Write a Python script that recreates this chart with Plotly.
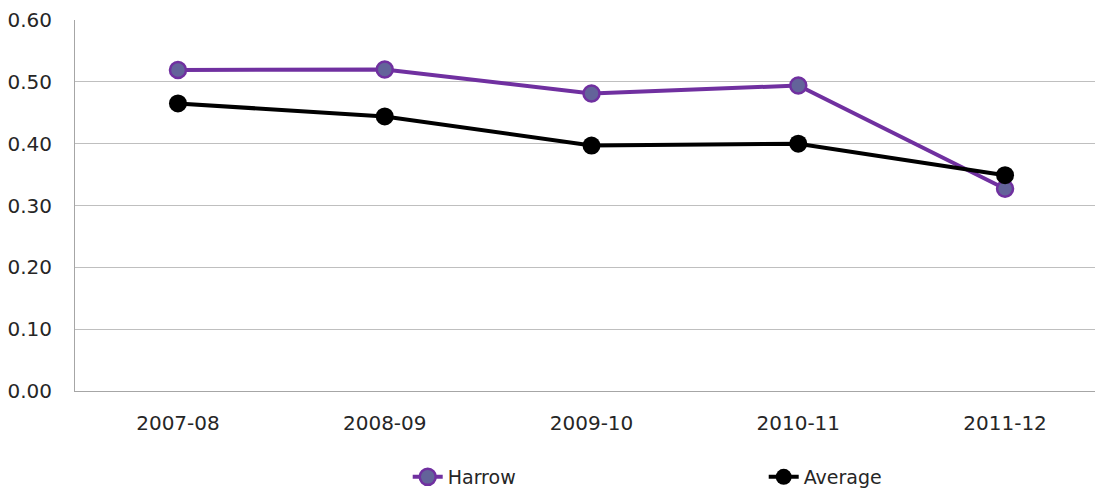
import plotly.graph_objects as go

categories = ["2007-08", "2008-09", "2009-10", "2010-11", "2011-12"]
harrow = [0.519, 0.520, 0.481, 0.494, 0.327]
average = [0.465, 0.444, 0.397, 0.400, 0.349]
y_ticks = [0.0, 0.1, 0.2, 0.3, 0.4, 0.5, 0.6]

fig = go.Figure()
fig.add_trace(go.Scatter(
    x=categories, y=harrow, name="Harrow", mode="lines+markers",
    line=dict(color="#7030A0", width=4),
    marker=dict(size=16, color="#63639A", line=dict(color="#7030A0", width=2.5)),
))
fig.add_trace(go.Scatter(
    x=categories, y=average, name="Average", mode="lines+markers",
    line=dict(color="#000000", width=4),
    marker=dict(size=18, color="#000000"),
))

fig.update_layout(
    width=1096, height=488,
    margin=dict(l=75, r=1, t=20, b=97, autoexpand=False),
    paper_bgcolor="white", plot_bgcolor="white",
    font=dict(family="DejaVu Sans, Verdana, sans-serif", size=20, color="#262626"),
    showlegend=True,
    legend=dict(orientation="h", xref="container", yref="container",
                x=0.372, xanchor="left", y=0.0225, yanchor="middle",
                entrywidth=311, font=dict(size=19), bgcolor="rgba(0,0,0,0)"),
    xaxis=dict(type="category", range=[-0.498, 4.435], showgrid=False,
               showline=True, linecolor="#A6A6A6", linewidth=1, ticks="",
               ticklabelstandoff=14, tickfont=dict(size=20)),
    yaxis=dict(range=[0, 0.6], tickvals=y_ticks, tickformat=".2f",
               showgrid=True, gridcolor="#BFBFBF", gridwidth=1,
               showline=True, linecolor="#A6A6A6", linewidth=1, ticks="",
               zeroline=False, ticklabelstandoff=18, tickfont=dict(size=20)),
)

fig.write_html("out.html", config={"displayModeBar": False},
               post_script="document.body.style.margin='0';document.body.style.overflow='hidden';")
